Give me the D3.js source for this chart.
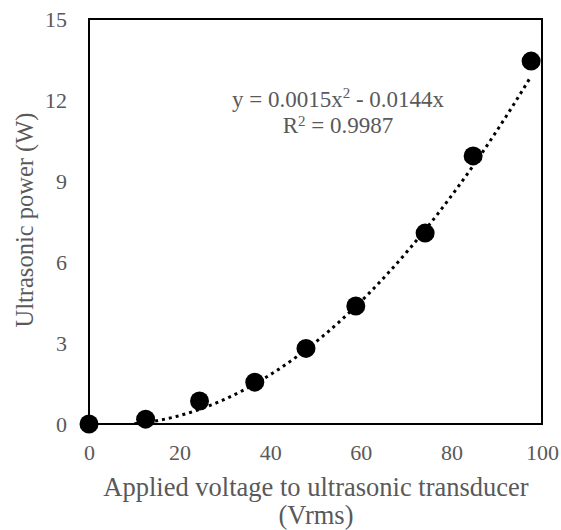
<!DOCTYPE html>
<html>
<head>
<meta charset="utf-8">
<script src="https://cdn.jsdelivr.net/npm/d3@7"></script>
<style>
  body { margin: 0; background: #fff; }
  text { font-family: "Liberation Serif", "Times New Roman", serif; fill: #595959; }
</style>
</head>
<body>
<div id="chart"></div>
<script>
// data
var voltage = [0, 12.5, 24.4, 36.6, 47.9, 58.9, 74.2, 84.8, 97.6];
var power   = [0, 0.18, 0.85, 1.55, 2.8, 4.37, 7.07, 9.93, 13.44];
var fitCoef = [0.0015, -0.0144];   // y = a*x^2 + b*x
var xTicks = [0, 20, 40, 60, 80, 100];
var yTicks = [0, 3, 6, 9, 12, 15];

var margin = {top: 19, right: 19, bottom: 106, left: 89},
    width = 561 - margin.left - margin.right,
    height = 530 - margin.top - margin.bottom;

var svg = d3.select("#chart")
  .append("svg")
    .attr("width", 561)
    .attr("height", 530)
  .append("g")
    .attr("transform", "translate(" + margin.left + "," + margin.top + ")");

var x = d3.scaleLinear().domain([0, 100]).range([0, width]);
var y = d3.scaleLinear().domain([0, 15]).range([height, 0]);

// X axis
var xAxis = svg.append("g")
  .attr("transform", "translate(0," + height + ")")
  .call(d3.axisBottom(x).tickValues(xTicks).tickSize(0).tickPadding(20));
xAxis.select(".domain").remove();
xAxis.selectAll("text").style("font-size", "22px")
  .style("font-family", "Liberation Serif").attr("fill", "#595959");

// Y axis
var yAxis = svg.append("g")
  .call(d3.axisLeft(y).tickValues(yTicks).tickSize(0).tickPadding(22));
yAxis.select(".domain").remove();
yAxis.selectAll("text").style("font-size", "22px")
  .style("font-family", "Liberation Serif").attr("fill", "#595959");

// plot frame
svg.append("rect")
  .attr("width", width)
  .attr("height", height)
  .attr("fill", "none")
  .attr("stroke", "#000")
  .attr("stroke-width", 2);

// trendline
svg.append("clipPath").attr("id", "clip")
  .append("rect").attr("width", width).attr("height", height);

var fitX = d3.range(0, d3.max(voltage) + 0.01, 0.5);
var line = d3.line()
  .x(function(d) { return x(d); })
  .y(function(d) { return y(fitCoef[0] * d * d + fitCoef[1] * d); });

svg.append("path")
  .datum(fitX.filter(function(d) { return d >= 9.6; }))
  .attr("clip-path", "url(#clip)")
  .attr("d", line)
  .attr("fill", "none")
  .attr("stroke", "#000")
  .attr("stroke-width", 3)
  .attr("stroke-dasharray", "3,4");

// dots
svg.append("g")
  .selectAll("circle")
  .data(voltage)
  .enter()
  .append("circle")
    .attr("cx", function(d) { return x(d); })
    .attr("cy", function(d, i) { return y(power[i]); })
    .attr("r", 9.5)
    .attr("fill", "#000");

// equation label
var eqX = 249;
var eq = svg.append("text")
  .attr("x", eqX)
  .attr("y", 88)
  .attr("text-anchor", "middle")
  .style("font-size", "23px");
eq.append("tspan").text("y = 0.0015x");
eq.append("tspan").text("2").attr("dy", -9).style("font-size", "15px");
eq.append("tspan").text(" - 0.0144x").attr("dy", 9);

var r2 = svg.append("text")
  .attr("x", eqX)
  .attr("y", 114)
  .attr("text-anchor", "middle")
  .style("font-size", "23px");
r2.append("tspan").text("R");
r2.append("tspan").text("2").attr("dy", -7).style("font-size", "15px");
r2.append("tspan").text(" = 0.9987").attr("dy", 7);

// X axis label
svg.append("text")
  .attr("text-anchor", "middle")
  .attr("x", (102 + 530) / 2 - margin.left)
  .attr("y", height + 72)
  .style("font-size", "26.5px")
  .text("Applied voltage to ultrasonic transducer");
svg.append("text")
  .attr("text-anchor", "middle")
  .attr("x", (102 + 530) / 2 - margin.left)
  .attr("y", height + 100)
  .style("font-size", "26.5px")
  .text("(Vrms)");

// Y axis label
svg.append("text")
  .attr("text-anchor", "middle")
  .attr("transform", "rotate(-90)")
  .attr("x", -(220 - margin.top))
  .attr("y", 33 - margin.left)
  .style("font-size", "24.5px")
  .text("Ultrasonic power (W)");
</script>
</body>
</html>
